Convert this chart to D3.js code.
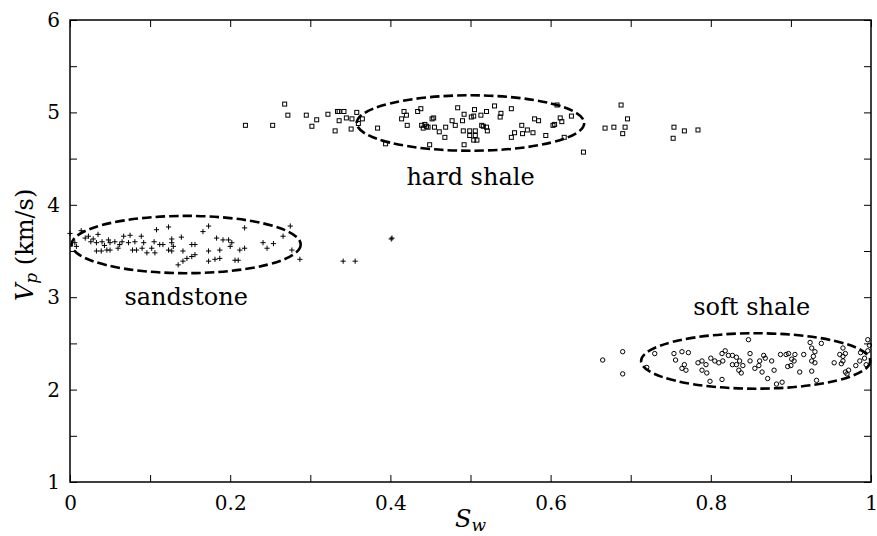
<!DOCTYPE html>
<html>
<head>
<meta charset="utf-8">
<script src="https://cdn.jsdelivr.net/npm/d3@7"></script>
<style>
  html, body { margin: 0; padding: 0; background: #fff; }
  svg text { font-family: "DejaVu Serif", serif; fill: #000; }
</style>
</head>
<body>
<svg id="chart" width="877" height="536"></svg>
<script>
// Water saturation (Sw) vs P-wave velocity (Vp, km/s) per lithology
const sandstone = [
  [0.000,3.69],[0.014,3.72],[0.023,3.66],[0.029,3.63],[0.035,3.68],[0.026,3.60],[0.033,3.59],[0.040,3.60],
  [0.048,3.62],[0.050,3.59],[0.056,3.60],[0.043,3.56],[0.033,3.50],[0.039,3.50],[0.046,3.51],[0.050,3.51],
  [0.060,3.53],[0.062,3.57],[0.065,3.60],[0.067,3.66],[0.075,3.67],[0.073,3.59],[0.081,3.60],[0.089,3.66],
  [0.092,3.59],[0.083,3.51],[0.090,3.53],[0.096,3.48],[0.102,3.53],[0.105,3.60],[0.108,3.73],[0.112,3.57],
  [0.116,3.57],[0.123,3.76],[0.127,3.63],[0.127,3.59],[0.129,3.55],[0.123,3.51],[0.127,3.50],[0.139,3.65],
  [0.141,3.50],[0.152,3.57],[0.156,3.57],[0.135,3.35],[0.141,3.39],[0.146,3.42],[0.152,3.44],[0.156,3.46],
  [0.166,3.71],[0.173,3.77],[0.173,3.50],[0.173,3.39],[0.181,3.41],[0.187,3.42],[0.183,3.64],[0.191,3.62],
  [0.187,3.51],[0.198,3.62],[0.202,3.59],[0.200,3.55],[0.212,3.51],[0.218,3.53],[0.218,3.75],[0.206,3.40],
  [0.210,3.40],[0.241,3.59],[0.246,3.53],[0.254,3.58],[0.266,3.66],[0.275,3.77],[0.277,3.51],[0.287,3.41],
  [0.006,3.59],[0.008,3.55],[0.078,3.51],[0.106,3.48],[0.019,3.64],[0.402,3.64],[0.401,3.63],[0.341,3.39],
  [0.356,3.39]
];

const hardShale = [
  [0.219,4.86],[0.253,4.86],[0.268,5.09],[0.272,4.97],[0.295,4.97],[0.302,4.85],[0.308,4.92],[0.322,4.98],
  [0.334,5.01],[0.336,5.01],[0.342,5.01],[0.336,4.91],[0.331,4.80],[0.345,4.94],[0.352,4.93],[0.358,5.00],
  [0.351,4.82],[0.365,4.93],[0.360,4.88],[0.384,4.83],[0.394,4.66],[0.417,5.01],[0.420,4.97],[0.414,4.93],
  [0.421,4.86],[0.434,5.01],[0.438,5.04],[0.439,4.86],[0.445,4.85],[0.441,4.83],[0.449,4.65],[0.452,4.93],
  [0.454,4.94],[0.461,4.79],[0.468,4.73],[0.469,4.84],[0.477,4.91],[0.481,4.86],[0.484,5.05],[0.492,4.98],
  [0.490,4.91],[0.491,4.80],[0.492,4.65],[0.505,5.03],[0.501,4.95],[0.504,4.96],[0.513,4.97],[0.520,5.01],
  [0.530,5.07],[0.538,4.99],[0.537,4.95],[0.551,5.04],[0.514,4.86],[0.516,4.85],[0.520,4.84],[0.521,4.80],
  [0.499,4.80],[0.506,4.80],[0.499,4.75],[0.506,4.75],[0.504,4.70],[0.508,4.70],[0.555,4.78],[0.551,4.73],
  [0.564,4.86],[0.565,4.77],[0.571,4.81],[0.578,4.78],[0.580,4.93],[0.585,4.91],[0.594,4.75],[0.603,4.86],
  [0.605,4.87],[0.608,5.08],[0.612,4.94],[0.614,4.90],[0.626,4.96],[0.617,4.73],[0.641,4.57],[0.668,4.83],
  [0.679,4.84],[0.688,5.08],[0.696,4.93],[0.693,4.84],[0.690,4.77],[0.754,4.84],[0.753,4.72],[0.767,4.80],
  [0.784,4.81],[0.443,4.87],[0.447,4.84],[0.455,4.84]
];

const softShale = [
  [0.665,2.32],[0.690,2.41],[0.690,2.17],[0.730,2.39],[0.720,2.24],[0.754,2.39],[0.756,2.32],[0.764,2.41],
  [0.772,2.40],[0.767,2.27],[0.764,2.23],[0.769,2.21],[0.784,2.29],[0.789,2.31],[0.794,2.27],[0.789,2.21],
  [0.795,2.18],[0.799,2.09],[0.800,2.34],[0.805,2.31],[0.810,2.29],[0.814,2.39],[0.818,2.42],[0.814,2.11],
  [0.822,2.37],[0.815,2.31],[0.827,2.37],[0.832,2.35],[0.827,2.27],[0.832,2.27],[0.836,2.31],[0.835,2.21],
  [0.838,2.18],[0.840,2.26],[0.847,2.54],[0.849,2.39],[0.849,2.31],[0.855,2.23],[0.861,2.31],[0.860,2.26],
  [0.866,2.37],[0.868,2.34],[0.864,2.19],[0.871,2.12],[0.876,2.31],[0.879,2.21],[0.882,2.06],[0.889,2.08],
  [0.887,2.38],[0.894,2.38],[0.897,2.39],[0.905,2.38],[0.901,2.33],[0.904,2.31],[0.900,2.26],[0.896,2.25],
  [0.911,2.19],[0.916,2.38],[0.924,2.51],[0.926,2.45],[0.930,2.41],[0.928,2.36],[0.926,2.31],[0.930,2.29],
  [0.926,2.20],[0.932,2.10],[0.938,2.50],[0.954,2.29],[0.961,2.38],[0.965,2.36],[0.968,2.39],[0.965,2.31],
  [0.963,2.28],[0.968,2.19],[0.972,2.21],[0.970,2.17],[0.965,2.45],[0.986,2.31],[0.992,2.34],[0.996,2.42],
  [0.998,2.48],[0.996,2.54],[0.994,2.27],[0.981,2.26],[0.987,2.40]
];

// Cluster outlines: name, centre (Sw, Vp), semi-axes (Sw, Vp), label anchor (Sw, Vp)
const clusterNames   = ["sandstone", "hard shale", "soft shale"];
const clusterCentres = [[0.145, 3.57], [0.500, 4.885], [0.856, 2.31]];
const clusterRadii   = [[0.143, 0.31], [0.142, 0.30], [0.143, 0.30]];
const labelAnchors   = [[0.145, 2.917], [0.500, 4.215], [0.851, 2.81]];

const xTicksMajor = [0, 0.2, 0.4, 0.6, 0.8, 1];
const xTicksMinor = [0.1, 0.3, 0.5, 0.7, 0.9];
const yTicksMajor = [1, 2, 3, 4, 5, 6];
const yTicksMinor = [1.5, 2.5, 3.5, 4.5, 5.5];

const svg = d3.select("#chart");
const plotLeft = 70, plotRight = 871, plotTop = 20, plotBottom = 482;

const x = d3.scaleLinear().domain([0, 1]).range([plotLeft, plotRight]);
const y = d3.scaleLinear().domain([1, 6]).range([plotBottom, plotTop]);

const tickLen = 7;
const fmt = d => (d === 0 || d === 1) ? String(d) : d3.format(".1f")(d);

function addAxis(axis, tx, ty, showLabels) {
  const g = svg.append("g").attr("transform", `translate(${tx},${ty})`).call(axis);
  g.select(".domain").remove();
  g.selectAll(".tick line").attr("stroke", "#000").attr("stroke-width", 1);
  if (!showLabels) g.selectAll(".tick text").remove();
  return g;
}

// bottom / top axes (inward ticks)
const allX = xTicksMajor.concat(xTicksMinor);
const gb = addAxis(d3.axisBottom(x).tickValues(allX).tickSizeInner(-tickLen).tickSizeOuter(0).tickPadding(14).tickFormat(fmt), 0, plotBottom, true);
gb.selectAll(".tick").filter(d => xTicksMinor.includes(d)).select("text").remove();
gb.selectAll(".tick text").attr("font-size", 20).attr("font-family", "DejaVu Serif");
addAxis(d3.axisTop(x).tickValues(allX).tickSizeInner(-tickLen).tickSizeOuter(0), 0, plotTop, false);

// left / right axes
const allY = yTicksMajor.concat(yTicksMinor);
const gl = addAxis(d3.axisLeft(y).tickValues(allY).tickSizeInner(-tickLen).tickSizeOuter(0).tickPadding(10).tickFormat(d3.format("d")), plotLeft, 0, true);
gl.selectAll(".tick").filter(d => yTicksMinor.includes(d)).select("text").remove();
gl.selectAll(".tick text").attr("font-size", 20).attr("font-family", "DejaVu Serif");
addAxis(d3.axisRight(y).tickValues(allY).tickSizeInner(-tickLen).tickSizeOuter(0), plotRight, 0, false);

// frame
svg.append("rect")
  .attr("x", plotLeft).attr("y", plotTop)
  .attr("width", plotRight - plotLeft).attr("height", plotBottom - plotTop)
  .attr("fill", "none").attr("stroke", "#000").attr("stroke-width", 1.5);

const plot = svg.append("g");

// sandstone: plus markers
plot.selectAll("path.sand").data(sandstone).join("path")
  .attr("class", "sand")
  .attr("d", d => { const cx = x(d[0]), cy = y(d[1]), s = 2.6;
    return `M${cx - s},${cy}H${cx + s}M${cx},${cy - s}V${cy + s}`; })
  .attr("stroke", "#000").attr("stroke-width", 1);

// hard shale: open squares
plot.selectAll("rect.hard").data(hardShale).join("rect")
  .attr("class", "hard")
  .attr("x", d => x(d[0]) - 2).attr("y", d => y(d[1]) - 2)
  .attr("width", 4).attr("height", 4)
  .attr("fill", "none").attr("stroke", "#000").attr("stroke-width", 1);

// soft shale: open circles
plot.selectAll("circle.soft").data(softShale).join("circle")
  .attr("class", "soft")
  .attr("cx", d => x(d[0])).attr("cy", d => y(d[1])).attr("r", 2.2)
  .attr("fill", "none").attr("stroke", "#000").attr("stroke-width", 1);

// dashed cluster outlines
plot.selectAll("ellipse.cluster").data(clusterCentres).join("ellipse")
  .attr("class", "cluster")
  .attr("cx", d => x(d[0])).attr("cy", d => y(d[1]))
  .attr("rx", (d, i) => x(clusterRadii[i][0]) - x(0))
  .attr("ry", (d, i) => y(1) - y(1 + clusterRadii[i][1]))
  .attr("fill", "none").attr("stroke", "#000")
  .attr("stroke-width", 2.6).attr("stroke-dasharray", "9.5,4");

// cluster labels
svg.selectAll("text.cluster-label").data(clusterNames).join("text")
  .attr("class", "cluster-label")
  .attr("x", (d, i) => x(labelAnchors[i][0]))
  .attr("y", (d, i) => y(labelAnchors[i][1]))
  .attr("text-anchor", "middle").attr("font-size", 24)
  .text(d => d);

// axis titles
const xt = svg.append("text")
  .attr("x", (plotLeft + plotRight) / 2).attr("y", 527)
  .attr("text-anchor", "middle").attr("font-size", 24);
xt.append("tspan").attr("font-style", "italic").text("S");
xt.append("tspan").attr("font-style", "italic").attr("font-size", 17).attr("dy", 4).text("w");

const yt = svg.append("text")
  .attr("transform", "translate(33,301) rotate(-90)")
  .attr("text-anchor", "start").attr("font-size", 24);
yt.append("tspan").attr("font-style", "italic").text("V");
yt.append("tspan").attr("font-style", "italic").attr("font-size", 17).attr("dy", 4).text("p");
yt.append("tspan").attr("dy", -4).text(" (km/s)");
</script>
</body>
</html>
